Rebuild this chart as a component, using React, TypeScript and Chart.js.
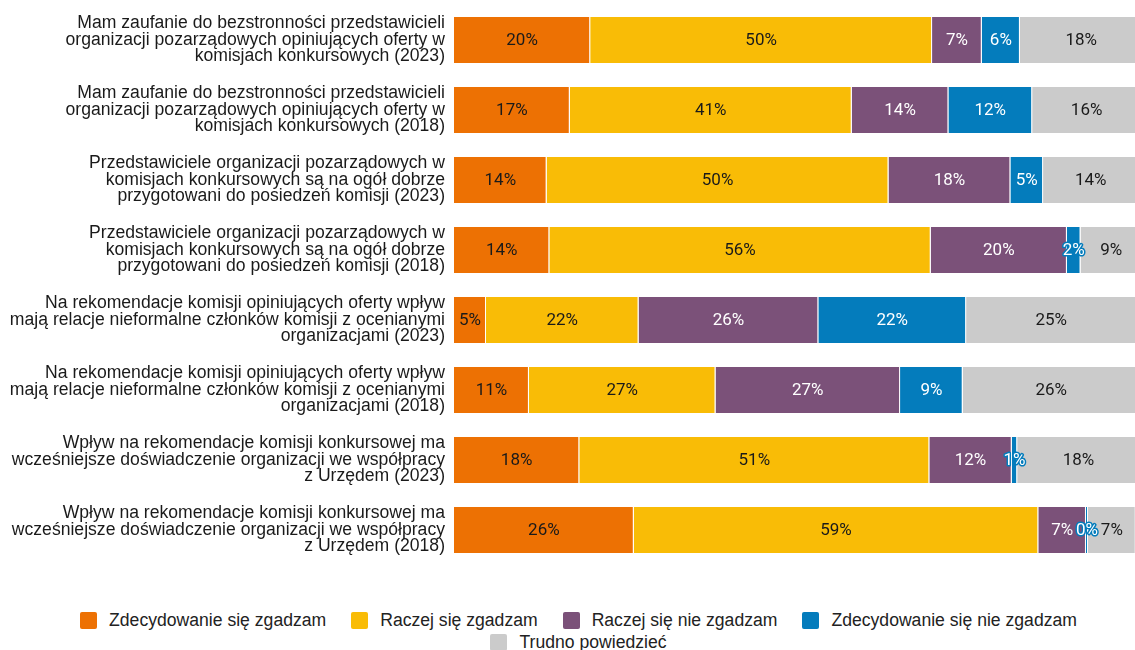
import React, { useEffect, useRef } from "react";
import { Chart, registerables } from "chart.js";

Chart.register(...registerables);

const categories: string[][] = [
  ["Mam zaufanie do bezstronności przedstawicieli", "organizacji pozarządowych opiniujących oferty w", "komisjach konkursowych (2023)"],
  ["Mam zaufanie do bezstronności przedstawicieli", "organizacji pozarządowych opiniujących oferty w", "komisjach konkursowych (2018)"],
  ["Przedstawiciele organizacji pozarządowych w", "komisjach konkursowych są na ogół dobrze", "przygotowani do posiedzeń komisji (2023)"],
  ["Przedstawiciele organizacji pozarządowych w", "komisjach konkursowych są na ogół dobrze", "przygotowani do posiedzeń komisji (2018)"],
  ["Na rekomendacje komisji opiniujących oferty wpływ", "mają relacje nieformalne członków komisji z ocenianymi", "organizacjami (2023)"],
  ["Na rekomendacje komisji opiniujących oferty wpływ", "mają relacje nieformalne członków komisji z ocenianymi", "organizacjami (2018)"],
  ["Wpływ na rekomendacje komisji konkursowej ma", "wcześniejsze doświadczenie organizacji we współpracy", "z Urzędem (2023)"],
  ["Wpływ na rekomendacje komisji konkursowej ma", "wcześniejsze doświadczenie organizacji we współpracy", "z Urzędem (2018)"],
];

const seriesNames = [
  "Zdecydowanie się zgadzam",
  "Raczej się zgadzam",
  "Raczej się nie zgadzam",
  "Zdecydowanie się nie zgadzam",
  "Trudno powiedzieć",
];

const strongAgree = [20.0, 17.0, 13.6, 14.0, 4.7, 11.0, 18.4, 26.4];
const ratherAgree = [50.2, 41.4, 50.2, 56.0, 22.4, 27.4, 51.4, 59.4];
const ratherDisagree = [7.3, 14.2, 17.9, 20.0, 26.4, 27.1, 12.1, 7.0];
const strongDisagree = [5.6, 12.3, 4.8, 2.0, 21.7, 9.2, 0.8, 0.3];
const hardToSay = [18, 16, 14, 9, 25, 26, 18, 7];

const seriesValues = [strongAgree, ratherAgree, ratherDisagree, strongDisagree, hardToSay];
const seriesColors = ["#ED7103", "#F9BC06", "#7B5179", "#047CBC", "#CBCBCB"];
const labelColors = ["#1a1a1a", "#1a1a1a", "#ffffff", "#ffffff", "#1a1a1a"];

const segLabels = {
  id: "segLabels",
  afterDatasetsDraw(chart: any) {
    const ctx = chart.ctx;
    ctx.save();
    ctx.font = "17px Roboto";
    ctx.textAlign = "center";
    ctx.textBaseline = "middle";
    chart.data.datasets.forEach((ds: any, di: number) => {
      const meta = chart.getDatasetMeta(di);
      meta.data.forEach((el: any, i: number) => {
        const v = ds.data[i];
        const p = el.getProps(["x", "base", "y"], true);
        const cx = (p.x + p.base) / 2;
        const text = Math.round(v) + "%";
        if (labelColors[di] === "#ffffff") {
          ctx.lineWidth = 3;
          ctx.lineJoin = "round";
          ctx.strokeStyle = seriesColors[di];
          ctx.strokeText(text, cx, p.y + 1);
        }
        ctx.fillStyle = labelColors[di];
        ctx.fillText(text, cx, p.y + 1);
      });
    });
    ctx.restore();
  },
};

export default function App() {
  const canvasRef = useRef<HTMLCanvasElement | null>(null);

  useEffect(() => {
    if (!canvasRef.current) return;
    const chart = new Chart(canvasRef.current, {
      type: "bar",
      data: {
        labels: categories,
        datasets: seriesNames.map((name, i) => ({
          label: name,
          data: seriesValues[i],
          backgroundColor: seriesColors[i],
          borderColor: "rgba(255,255,255,0.95)",
          borderWidth: { top: 0, right: 1, bottom: 0, left: 0 },
          borderSkipped: false,
          barPercentage: 0.657,
          categoryPercentage: 1,
        })),
      },
      options: {
        indexAxis: "y",
        animation: false,
        responsive: true,
        maintainAspectRatio: false,
        layout: { padding: { top: 5, bottom: 35, left: 0, right: 0 } },
        plugins: {
          legend: { display: false },
          tooltip: { enabled: false },
        },
        scales: {
          x: {
            stacked: true,
            min: 0,
            max: 100,
            display: false,
          },
          y: {
            stacked: true,
            grid: { display: false, drawTicks: false },
            border: { display: false },
            ticks: {
              padding: 9,
              color: "#1a1a1a",
              font: { family: "'Liberation Sans', Arial, sans-serif", size: 17.6, lineHeight: "16.6px" },
            },
            afterFit(scale: any) {
              scale.width = 454;
              scale.paddingTop = 0;
              scale.paddingBottom = 0;
            },
          },
        },
      },
      plugins: [segLabels],
    } as any);
    return () => chart.destroy();
  }, []);

  return (
    <div style={{ position: "absolute", left: 0, top: 0, width: 1135, height: 650, background: "#fff" }}>
      <div style={{ position: "absolute", left: 0, top: 0, width: 1135, height: 600 }}>
        <canvas ref={canvasRef} />
      </div>
      <div
        style={{
          position: "absolute",
          left: 0,
          top: 609,
          width: 1113,
          paddingLeft: 22,
          display: "flex",
          flexWrap: "wrap",
          justifyContent: "center",
          fontFamily: "'Liberation Sans', Arial, sans-serif",
          fontSize: 17.6,
          lineHeight: "22px",
          color: "#222",
        }}
      >
        {seriesNames.map((name, i) => (
          <div
            key={name}
            style={{
              display: "flex",
              alignItems: "center",
              marginLeft: i === seriesNames.length - 1 ? 0 : 12.5,
              marginRight: i === seriesNames.length - 1 ? 0 : 12.5,
              height: 22,
            }}
          >
            <span
              style={{
                display: "inline-block",
                width: 17,
                height: 17,
                background: seriesColors[i],
                borderRadius: 2,
                marginRight: 12,
              }}
            />
            <span>{name}</span>
          </div>
        ))}
      </div>
    </div>
  );
}
